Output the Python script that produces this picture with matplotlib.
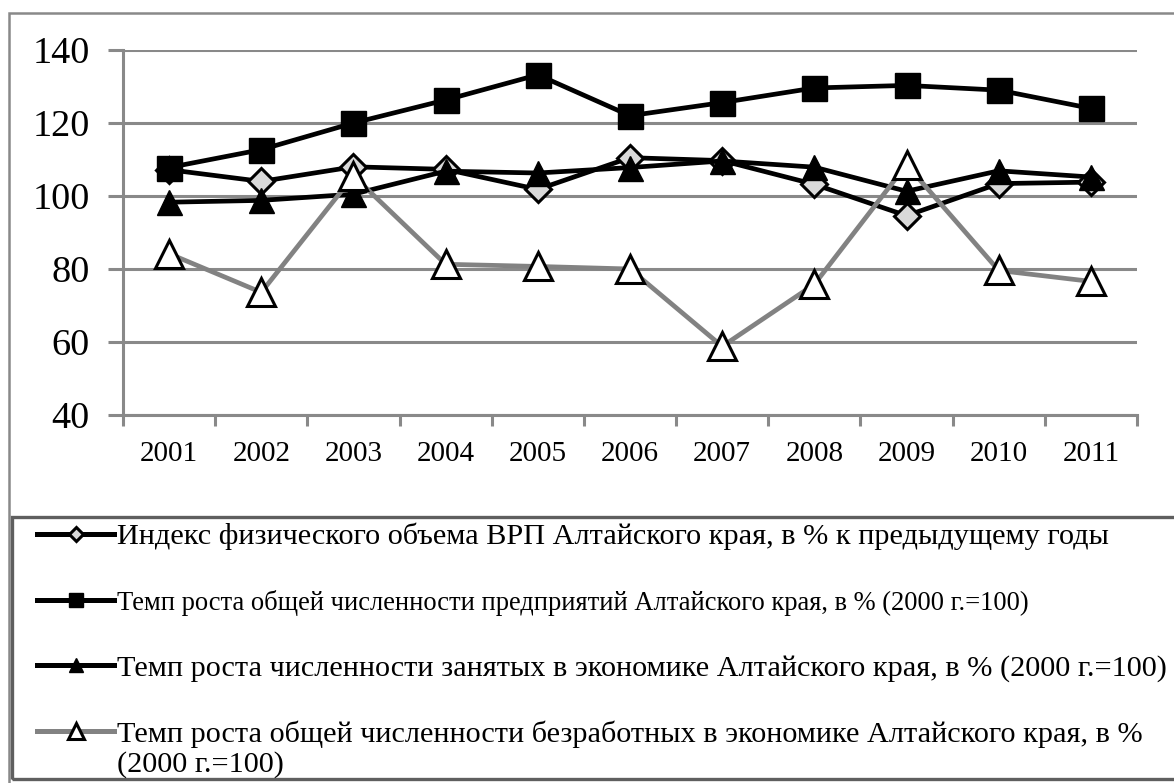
import matplotlib
matplotlib.use("Agg")
import matplotlib.pyplot as plt
from matplotlib.patches import Rectangle

years = ["2001", "2002", "2003", "2004", "2005", "2006", "2007", "2008", "2009", "2010", "2011"]
vrp_index = [107.2, 104.0, 108.0, 107.3, 101.8, 110.5, 109.7, 103.2, 94.6, 103.4, 103.8]
enterprises = [107.8, 112.7, 120.0, 126.3, 133.2, 122.0, 125.6, 129.6, 130.3, 129.0, 124.0]
employed = [98.3, 98.8, 100.5, 106.8, 106.3, 107.8, 109.6, 107.9, 101.3, 106.9, 105.2]
unemployed = [84.2, 73.6, 105.5, 81.3, 80.7, 80.0, 58.8, 75.8, 108.6, 79.6, 76.6]

labels = [
    "Индекс физического объема ВРП Алтайского края, в % к предыдущему годы",
    "Темп роста общей численности предприятий Алтайского края, в % (2000 г.=100)",
    "Темп роста численности занятых в экономике Алтайского края, в % (2000 г.=100)",
    "Темп роста общей численности безработных в экономике Алтайского края, в %",
]
label4_cont = "(2000 г.=100)"
yticks = [40, 60, 80, 100, 120, 140]

W, H = 1174, 783
plt.rcParams['font.family'] = ['Liberation Serif', 'DejaVu Serif']
fig = plt.figure(figsize=(W / 100, H / 100), dpi=100)
ax = fig.add_axes([123 / W, 1 - 415 / H, (1137 - 123) / W, (415 - 50) / H])

x = list(range(len(years)))
grid_c = '#898989'

l1, = ax.plot(x, vrp_index, color='black', lw=3.4, marker='D', ms=13.5,
              mfc='#d9d9d9', mec='black', mew=2.2, zorder=3)
l2, = ax.plot(x, enterprises, color='black', lw=3.4, marker='s', ms=18,
              mfc='black', mec='black', mew=1, zorder=4)
l3, = ax.plot(x, employed, color='black', lw=3.4, marker='^', ms=18,
              mfc='black', mec='black', mew=1, zorder=5)
l4, = ax.plot(x, unemployed, color='#828282', lw=3.4, marker='^', ms=20,
              mfc='white', mec='black', mew=2.2, zorder=6)

ax.set_xlim(-0.5, len(years) - 0.5)
ax.set_ylim(40, 140)
ax.set_yticks(yticks)
ax.set_yticklabels([str(v) for v in yticks])
ax.yaxis.grid(True, color=grid_c, lw=2.2)
ax.set_axisbelow(True)

ax.set_xticks([i - 0.5 for i in range(len(years) + 1)])
ax.set_xticklabels([])
ax.set_xticks(x, minor=True)
ax.set_xticklabels(years, minor=True)
ax.tick_params(axis='x', which='major', length=8, width=2.2, color=grid_c, direction='out')
ax.tick_params(axis='x', which='minor', length=0, pad=19, labelsize=21)
ax.tick_params(axis='y', length=11, width=2.2, color=grid_c, pad=13, labelsize=27.5)

for s in ['top', 'right']:
    ax.spines[s].set_visible(False)
for s in ['left', 'bottom']:
    ax.spines[s].set_color(grid_c)
    ax.spines[s].set_linewidth(2.2)

# outer border and legend frame
fig.patches.append(Rectangle((9 / W, 1 - 790 / H), 1180 / W, (790 - 13) / H,
                             transform=fig.transFigure, fill=False,
                             edgecolor=grid_c, lw=1.8))
fig.patches.append(Rectangle((12 / W, 1 - 779 / H), 1180 / W, (779 - 517) / H,
                             transform=fig.transFigure, fill=False,
                             edgecolor='#5f5f5f', lw=2.4))

leg = fig.legend([l1, l2, l3, l4], labels, loc='upper left',
                 bbox_to_anchor=(37 / W, 1 - 523 / H), bbox_transform=fig.transFigure,
                 frameon=False, fontsize=21.8, handlelength=2.55, handletextpad=0.1,
                 labelspacing=1.27, borderpad=0, borderaxespad=0, markerscale=0.55)
leg.get_texts()[1].set_fontsize(19.1)
for h in leg.legend_handles:
    h.set_linewidth(3.6)

fig.canvas.draw()
t4 = leg.get_texts()[3]
bb = t4.get_window_extent(renderer=fig.canvas.get_renderer())
fig.text(bb.x0 / W, (bb.y0 - 3) / H, label4_cont, fontsize=21.8,
         ha='left', va='top', transform=fig.transFigure)

fig.savefig("out.png", dpi=100)
